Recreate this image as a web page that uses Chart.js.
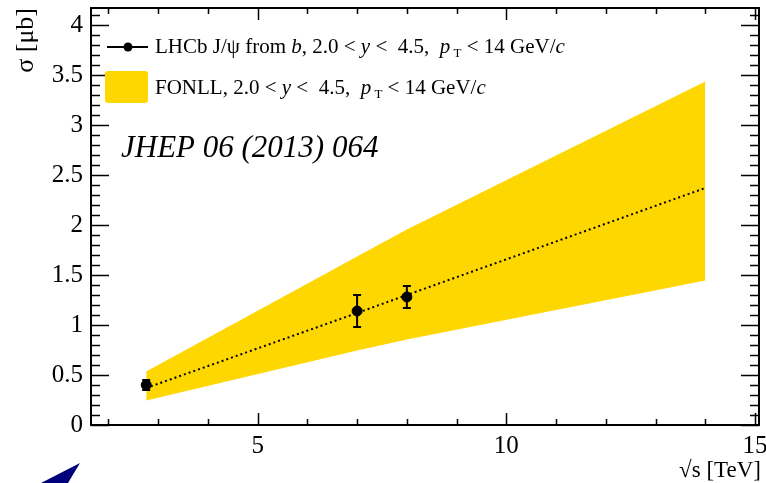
<!DOCTYPE html>
<html>
<head>
<meta charset="utf-8">
<script src="https://cdn.jsdelivr.net/npm/chart.js@4.4.0/dist/chart.umd.min.js"></script>
<style>
html, body { margin: 0; padding: 0; background: #fff; }
#wrap { width: 766px; height: 483px; }
</style>
</head>
<body>
<div id="wrap"><canvas id="mycanvas" width="766" height="483"></canvas></div>
<script>
// LHCb J/psi from b measurements
var lhcbEnergy = [2.76, 7, 8];
var lhcbSigma = [0.40, 1.14, 1.28];
var lhcbError = [0.05, 0.16, 0.11];

// FONLL prediction (band + central value)
var fonllEnergy = [2.76, 7, 8, 14];
var fonllCentral = [0.37, 1.12, 1.30, 2.37];
var fonllUpper = [0.53, 1.68, 1.95, 3.43];
var fonllLower = [0.25, 0.75, 0.86, 1.45];

var xTickLabels = [5, 10, 15];
var yTickLabels = [0, 0.5, 1, 1.5, 2, 2.5, 3, 3.5, 4];

var gold = 'rgb(255, 215, 0)';
var serif = '"Liberation Serif", "DejaVu Serif", serif';

function xy(xs, ys) {
	var out = [];
	for (var i in xs) {
		out.push({x: xs[i], y: ys[i]});
	}
	return out;
}

// draw a line of text made of roman / italic / subscript pieces
function drawRuns(ctx, runs, x, y, size) {
	runs.forEach(function(r) {
		var fs = r.sub ? Math.round(size * 0.62) : size;
		ctx.font = (r.it ? 'italic ' : '') + fs + 'px ' + serif;
		ctx.fillText(r.t, x, y + (r.sub ? size * 0.3 : 0));
		x += ctx.measureText(r.t).width;
	});
}

var legendLhcb = [
	{t: 'LHCb J/\u03C8 from '}, {t: 'b', it: true}, {t: ', 2.0 < '}, {t: 'y', it: true},
	{t: ' <  4.5,  '}, {t: 'p', it: true}, {t: ' T', sub: true}, {t: ' < 14 GeV/'}, {t: 'c', it: true}
];
var legendFonll = [
	{t: 'FONLL, 2.0 < '}, {t: 'y', it: true},
	{t: ' <  4.5,  '}, {t: 'p', it: true}, {t: ' T', sub: true}, {t: ' < 14 GeV/'}, {t: 'c', it: true}
];

var errorBars = {
	id: 'errorBars',
	afterDatasetsDraw: function(chart) {
		var ctx = chart.ctx;
		var xs = chart.scales.x, ys = chart.scales.y;
		ctx.save();
		ctx.strokeStyle = '#000';
		ctx.lineWidth = 2;
		for (var i in lhcbEnergy) {
			var px = xs.getPixelForValue(lhcbEnergy[i]);
			var top = ys.getPixelForValue(lhcbSigma[i] + lhcbError[i]);
			var bot = ys.getPixelForValue(lhcbSigma[i] - lhcbError[i]);
			ctx.beginPath();
			ctx.moveTo(px, top); ctx.lineTo(px, bot);
			ctx.moveTo(px - 4, top); ctx.lineTo(px + 4, top);
			ctx.moveTo(px - 4, bot); ctx.lineTo(px + 4, bot);
			ctx.stroke();
		}
		ctx.restore();
	}
};

var decorations = {
	id: 'decorations',
	afterDraw: function(chart) {
		var ctx = chart.ctx;
		var a = chart.chartArea;
		var xs = chart.scales.x, ys = chart.scales.y;
		ctx.save();

		// frame
		ctx.strokeStyle = '#000';
		ctx.lineWidth = 2;
		ctx.strokeRect(a.left, a.top, a.right - a.left, a.bottom - a.top);

		// ticks on all four sides
		ctx.lineWidth = 1.5;
		ctx.beginPath();
		for (var v = 2; v <= 15; v++) {
			var px = Math.round(xs.getPixelForValue(v)) + 0.5;
			var len = (v % 5 == 0) ? 12 : 6;
			ctx.moveTo(px, a.bottom); ctx.lineTo(px, a.bottom - len);
			ctx.moveTo(px, a.top); ctx.lineTo(px, a.top + len);
		}
		for (var k = 0; k <= 41; k++) {
			var py = Math.round(ys.getPixelForValue(k / 10)) + 0.5;
			var l2 = (k % 5 == 0) ? 18 : 9;
			ctx.moveTo(a.left, py); ctx.lineTo(a.left + l2, py);
			ctx.moveTo(a.right, py); ctx.lineTo(a.right - l2, py);
		}
		ctx.stroke();

		// legend
		ctx.fillStyle = '#000';
		ctx.textBaseline = 'middle';
		ctx.textAlign = 'left';
		ctx.lineWidth = 2;
		ctx.beginPath();
		ctx.moveTo(107, 47); ctx.lineTo(148, 47);
		ctx.stroke();
		ctx.beginPath();
		ctx.arc(128, 47, 4.5, 0, Math.PI * 2);
		ctx.fill();
		drawRuns(ctx, legendLhcb, 155, 47, 21);

		ctx.fillStyle = gold;
		ctx.beginPath();
		ctx.roundRect(105, 71, 43, 32, 3);
		ctx.fill();
		ctx.fillStyle = '#000';
		drawRuns(ctx, legendFonll, 155, 88, 21);

		// journal reference
		ctx.textBaseline = 'alphabetic';
		ctx.font = 'italic 31px ' + serif;
		ctx.fillText('JHEP 06 (2013) 064', 121, 157);

		// axis titles
		ctx.font = '23px ' + serif;
		ctx.textAlign = 'right';
		ctx.fillText('\u221As [TeV]', 761, 477);
		ctx.save();
		ctx.translate(26, 8);
		ctx.rotate(-Math.PI / 2);
		ctx.textBaseline = 'middle';
		ctx.font = '26px ' + serif;
		ctx.fillText('\u03C3 [\u03BCb]', 0, 0);
		ctx.restore();

		// corner of the logo
		ctx.fillStyle = '#00007a';
		ctx.beginPath();
		ctx.moveTo(41, 483); ctx.lineTo(80, 463); ctx.lineTo(68, 483);
		ctx.closePath();
		ctx.fill();

		ctx.restore();
	}
};

var chartdata = {
	datasets: [
		{
			label: 'FONLL upper',
			data: xy(fonllEnergy, fonllUpper),
			borderColor: gold, borderWidth: 1, backgroundColor: gold,
			pointRadius: 0, fill: '+1', order: 3
		},
		{
			label: 'FONLL lower',
			data: xy(fonllEnergy, fonllLower),
			borderColor: gold, borderWidth: 1,
			pointRadius: 0, fill: false, order: 3
		},
		{
			label: 'FONLL central',
			data: xy(fonllEnergy, fonllCentral),
			borderColor: '#000', borderWidth: 2, borderDash: [2, 3],
			pointRadius: 0, fill: false, order: 2
		},
		{
			label: 'LHCb J/psi from b',
			data: xy(lhcbEnergy, lhcbSigma),
			showLine: false, pointRadius: 5,
			pointBackgroundColor: '#000', pointBorderColor: '#000', order: 1
		}
	]
};

var tickFont = {family: serif, size: 25};

var ctx = document.getElementById('mycanvas');
var chart = new Chart(ctx, {
	type: 'line',
	data: chartdata,
	options: {
		responsive: false,
		animation: false,
		layout: {padding: {top: 8, right: 7, left: 0, bottom: 0}},
		plugins: {legend: {display: false}, tooltip: {enabled: false}},
		scales: {
			x: {
				type: 'linear', min: 1.65, max: 15.08,
				grid: {display: false, drawTicks: false},
				border: {display: false},
				afterBuildTicks: function(s) { s.ticks = xTickLabels.map(function(v) { return {value: v}; }); },
				afterFit: function(s) { s.height = 58; s.paddingLeft = 0; s.paddingRight = 0; },
				ticks: {font: tickFont, color: '#000', padding: 6, maxRotation: 0, autoSkip: false,
					callback: function(v) { return String(v); }}
			},
			y: {
				type: 'linear', min: 0, max: 4.17,
				grid: {display: false, drawTicks: false},
				border: {display: false},
				afterBuildTicks: function(s) { s.ticks = yTickLabels.map(function(v) { return {value: v}; }); },
				afterFit: function(s) { s.width = 91; s.paddingTop = 0; s.paddingBottom = 0; },
				ticks: {font: tickFont, color: '#000', padding: 8, autoSkip: false,
					callback: function(v) { return String(v); }}
			}
		}
	},
	plugins: [errorBars, decorations]
});
</script>
</body>
</html>
